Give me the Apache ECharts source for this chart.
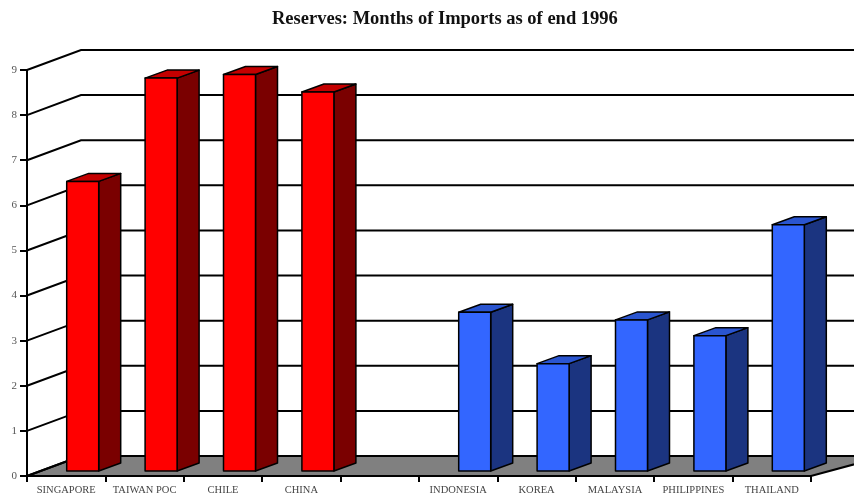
<!DOCTYPE html>
<html>
<head>
<meta charset="utf-8">
<script src="https://cdn.jsdelivr.net/npm/echarts@6/dist/echarts.min.js"></script>
<style>
  html, body { margin: 0; padding: 0; background: #fff; }
  #chart { width: 854px; height: 496px; }
</style>
</head>
<body>
<div id="chart"></div>
<script>
// 数据
var categories = ['SINGAPORE', 'TAIWAN POC', 'CHILE', 'CHINA', '', 'INDONESIA', 'KOREA', 'MALAYSIA', 'PHILIPPINES', 'THAILAND'];
var months = [6.42, 8.71, 8.79, 8.40, null, 3.52, 2.38, 3.35, 3.0, 5.46];
var groups = ['red', 'red', 'red', 'red', null, 'blue', 'blue', 'blue', 'blue', 'blue'];
var yTicks = [0, 1, 2, 3, 4, 5, 6, 7, 8, 9];

// 3D 偏移
var DEPTH_X = 54, DEPTH_Y = -20;     // 背墙
var BAR_X = 13.5, BAR_Y = -5;        // 柱子前面位置
var BAR_DX = 22, BAR_DY = -8;        // 柱子厚度
var BAR_W = 32;

var palette = {
  red: { front: '#ff0000', side: '#7a0000', top: '#c40000' },
  blue: { front: '#3366ff', side: '#1b3480', top: '#2a55d0' }
};

var barData = [];
months.forEach(function (v, i) {
  if (v != null) barData.push([i, v, groups[i]]);
});

function renderWall(params, api) {
  var v = api.value(0);
  var cs = params.coordSys;
  var p = api.coord([0, v]);
  var x0 = cs.x, y0 = p[1];
  var children = [];
  if (v === 0) {
    // 地板
    var right = cs.x + cs.width;
    children.push({
      type: 'polygon',
      shape: { points: [[x0, y0], [x0 + DEPTH_X, y0 + DEPTH_Y], [right + DEPTH_X + 20, y0 + DEPTH_Y], [right, y0]] },
      style: { fill: '#808080', stroke: '#000', lineWidth: 2 }
    });
  }
  children.push({
    type: 'polyline',
    shape: { points: [[x0, y0], [x0 + DEPTH_X, y0 + DEPTH_Y], [cs.x + cs.width + 100, y0 + DEPTH_Y]] },
    style: { stroke: '#000', lineWidth: 2, fill: null }
  });
  return { type: 'group', children: children };
}

function renderBar(params, api) {
  var idx = api.value(0);
  var c = palette[barData[params.dataIndex][2]];
  var base = api.coord([idx, 0]);
  var top = api.coord([idx, api.value(1)]);
  var x = base[0] - 13 + BAR_X;
  var yb = base[1] + BAR_Y;
  var yt = top[1] + BAR_Y;
  var st = { stroke: '#000', lineWidth: 1.5, lineJoin: 'round' };
  return {
    type: 'group',
    children: [
      {
        type: 'polygon',
        shape: { points: [[x + BAR_W, yb], [x + BAR_W + BAR_DX, yb + BAR_DY], [x + BAR_W + BAR_DX, yt + BAR_DY], [x + BAR_W, yt]] },
        style: Object.assign({ fill: c.side }, st)
      },
      {
        type: 'polygon',
        shape: { points: [[x, yt], [x + BAR_W, yt], [x + BAR_W + BAR_DX, yt + BAR_DY], [x + BAR_DX, yt + BAR_DY]] },
        style: Object.assign({ fill: c.top }, st)
      },
      {
        type: 'rect',
        shape: { x: x, y: yt, width: BAR_W, height: yb - yt },
        style: Object.assign({ fill: c.front }, st)
      }
    ]
  };
}

var myChart = echarts.init(document.getElementById('chart'));
var option = {
  backgroundColor: '#fff',
  animation: false,
  title: {
    text: 'Reserves: Months of Imports as of end 1996',
    left: 272,
    top: 10,
    padding: 0,
    textStyle: {
      fontFamily: 'Liberation Serif',
      fontWeight: 'bold',
      fontSize: 18.5,
      color: '#111'
    }
  },
  grid: {
    left: 27,
    right: 43,
    top: 70,
    bottom: 17
  },
  xAxis: {
    type: 'category',
    data: categories,
    axisLine: { lineStyle: { color: '#000', width: 2 }, z: 10 },
    axisTick: { show: true, length: 6, lineStyle: { color: '#000', width: 2 } },
    axisLabel: {
      interval: 0,
      margin: 9,
      fontFamily: 'Liberation Serif',
      fontSize: 10.5,
      color: '#444'
    },
    splitLine: { show: false }
  },
  yAxis: {
    type: 'value',
    min: 0,
    max: 9,
    interval: 1,
    axisLine: { show: true, lineStyle: { color: '#000', width: 2 } },
    axisTick: { show: true, length: 7, lineStyle: { color: '#000', width: 2 } },
    axisLabel: {
      margin: 10,
      fontFamily: 'Liberation Serif',
      fontSize: 11,
      color: '#555'
    },
    splitLine: { show: false }
  },
  series: [
    {
      name: 'wall',
      type: 'custom',
      renderItem: renderWall,
      data: yTicks.map(function (v) { return [v]; }),
      encode: { y: 0 },
      silent: true,
      z: 1
    },
    {
      name: 'Months of Imports',
      type: 'custom',
      renderItem: renderBar,
      data: barData,
      encode: { x: 0, y: 1 },
      z: 3
    }
  ]
};
myChart.setOption(option);
</script>
</body>
</html>
